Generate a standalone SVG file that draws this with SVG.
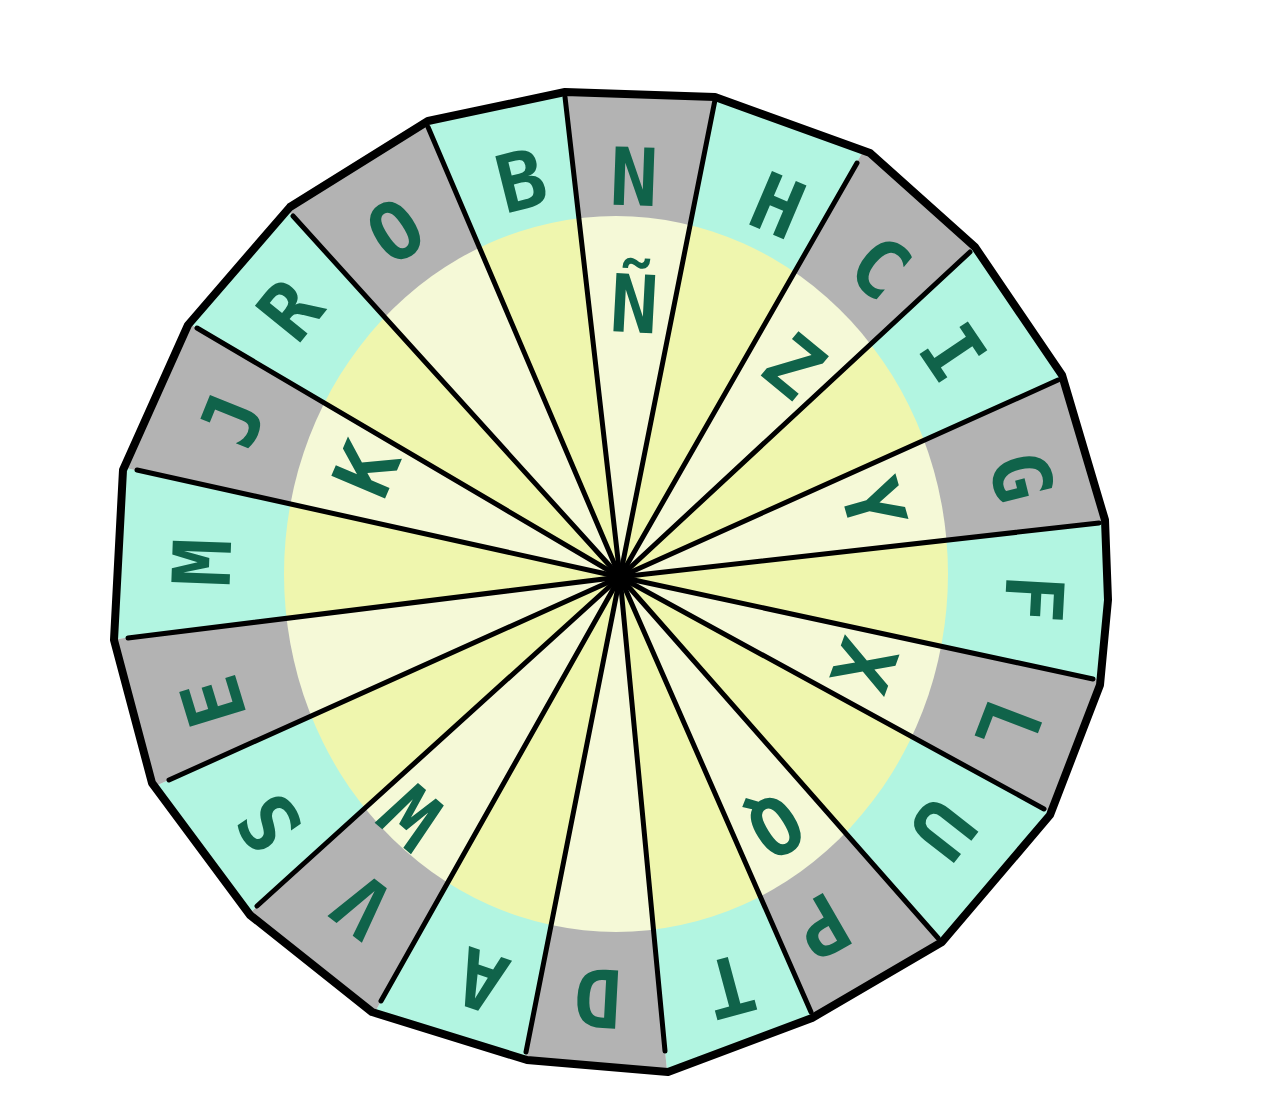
<svg xmlns="http://www.w3.org/2000/svg" width="1286" height="1100" viewBox="0 0 1286 1100">
<style>
.g{fill:#b3b3b3}
.c{fill:#b2f5e1}
.l{fill:#f5f9d7}
.d{fill:#eff6ae}
.sp line{stroke:#000;stroke-width:5;stroke-linecap:round}
text{font-family:"DejaVu Sans Mono","Liberation Mono",monospace;font-weight:bold;font-size:80px;fill:#10634a;text-anchor:middle}
</style>
<defs>
<clipPath id="inner"><ellipse cx="616" cy="574" rx="332" ry="358"/></clipPath>
<clipPath id="rim"><polygon points="428,121 565,92 715,97 870,153 975,247 1062,375 1105,520 1108,600 1100,685 1050,815 942,942 812,1018 668,1072 527,1060 372,1012 250,915 152,783 114,640 123,470 188,325 290,207"/></clipPath>
</defs>
<rect width="1286" height="1100" fill="#fff"/>
<g id="outer-ring" clip-path="url(#rim)">
<polygon class="g" points="620,577 563,77 717,80"/>
<polygon class="c" points="620,577 717,80 865,148"/>
<polygon class="g" points="620,577 865,148 985,238"/>
<polygon class="c" points="620,577 985,238 1078,372"/>
<polygon class="g" points="620,577 1078,372 1122,520"/>
<polygon class="c" points="620,577 1122,520 1116,683"/>
<polygon class="g" points="620,577 1116,683 1064,820"/>
<polygon class="c" points="620,577 1064,820 952,954"/>
<polygon class="g" points="620,577 952,954 819,1030"/>
<polygon class="c" points="620,577 819,1030 667,1071"/>
<polygon class="g" points="620,577 667,1071 522,1072"/>
<polygon class="c" points="620,577 522,1072 371,1019"/>
<polygon class="g" points="620,577 371,1019 242,920"/>
<polygon class="c" points="620,577 242,920 151,788"/>
<polygon class="g" points="620,577 151,788 108,640"/>
<polygon class="c" points="620,577 108,640 117,466"/>
<polygon class="g" points="620,577 117,466 180,318"/>
<polygon class="c" points="620,577 180,318 280,202"/>
<polygon class="g" points="620,577 280,202 420,108"/>
<polygon class="c" points="620,577 420,108 563,77"/>
</g>
<g id="inner-disc" clip-path="url(#inner)">
<polygon class="l" points="620,577 565,97 715,100"/>
<polygon class="d" points="620,577 715,100 857,163"/>
<polygon class="l" points="620,577 857,163 970,252"/>
<polygon class="d" points="620,577 970,252 1058,380"/>
<polygon class="l" points="620,577 1058,380 1099,523"/>
<polygon class="d" points="620,577 1099,523 1093,679"/>
<polygon class="l" points="620,577 1093,679 1044,809"/>
<polygon class="d" points="620,577 1044,809 938,938"/>
<polygon class="l" points="620,577 938,938 811,1012"/>
<polygon class="d" points="620,577 811,1012 665,1051"/>
<polygon class="l" points="620,577 665,1051 526,1052"/>
<polygon class="d" points="620,577 526,1052 381,1001"/>
<polygon class="l" points="620,577 381,1001 257,906"/>
<polygon class="d" points="620,577 257,906 169,780"/>
<polygon class="l" points="620,577 169,780 128,638"/>
<polygon class="d" points="620,577 128,638 137,470"/>
<polygon class="l" points="620,577 137,470 197,328"/>
<polygon class="d" points="620,577 197,328 293,216"/>
<polygon class="l" points="620,577 293,216 428,127"/>
<polygon class="d" points="620,577 428,127 565,97"/>
</g>
<g id="connectors" class="sp">
<line x1="620" y1="577" x2="565" y2="97"/>
<line x1="620" y1="577" x2="715" y2="100"/>
<line x1="620" y1="577" x2="857" y2="163"/>
<line x1="620" y1="577" x2="970" y2="252"/>
<line x1="620" y1="577" x2="1058" y2="380"/>
<line x1="620" y1="577" x2="1099" y2="523"/>
<line x1="620" y1="577" x2="1093" y2="679"/>
<line x1="620" y1="577" x2="1044" y2="809"/>
<line x1="620" y1="577" x2="938" y2="938"/>
<line x1="620" y1="577" x2="811" y2="1012"/>
<line x1="620" y1="577" x2="665" y2="1051"/>
<line x1="620" y1="577" x2="526" y2="1052"/>
<line x1="620" y1="577" x2="381" y2="1001"/>
<line x1="620" y1="577" x2="257" y2="906"/>
<line x1="620" y1="577" x2="169" y2="780"/>
<line x1="620" y1="577" x2="128" y2="638"/>
<line x1="620" y1="577" x2="137" y2="470"/>
<line x1="620" y1="577" x2="197" y2="328"/>
<line x1="620" y1="577" x2="293" y2="216"/>
<line x1="620" y1="577" x2="428" y2="127"/>
<circle cx="620" cy="577" r="12" fill="#000"/>
</g>
<polygon id="border" points="428,121 565,92 715,97 870,153 975,247 1062,375 1105,520 1108,600 1100,685 1050,815 942,942 812,1018 668,1072 527,1060 372,1012 250,915 152,783 114,640 123,470 188,325 290,207" fill="none" stroke="#000" stroke-width="8" stroke-linejoin="round"/>
<g id="outer-letters">
<text x="620" y="205" transform="rotate(2 620 577)">N</text>
<text x="620" y="202" transform="rotate(23 620 577)">H</text>
<text x="620" y="201" transform="rotate(40 620 577)">C</text>
<text x="620" y="204" transform="rotate(56 620 577)">I</text>
<text x="620" y="192" transform="rotate(76 620 577)">G</text>
<text x="620" y="191" transform="rotate(93 620 577)">F</text>
<text x="620" y="189" transform="rotate(111 620 577)">L</text>
<text x="620" y="196" transform="rotate(128 620 577)">U</text>
<text x="620" y="202" transform="rotate(150 620 577)">P</text>
<text x="620" y="182" transform="rotate(165 620 577)">T</text>
<text x="620" y="184" transform="rotate(183 620 577)">D</text>
<text x="620" y="179" transform="rotate(199 620 577)">A</text>
<text x="620" y="188" transform="rotate(218 620 577)">V</text>
<text x="620" y="177" transform="rotate(235 620 577)">S</text>
<text x="620" y="180" transform="rotate(253 620 577)">E</text>
<text x="620" y="187" transform="rotate(272 620 577)">M</text>
<text x="620" y="187" transform="rotate(292 620 577)">J</text>
<text x="620" y="181" transform="rotate(309 620 577)">R</text>
<text x="620" y="193" transform="rotate(327 620 577)">O</text>
<text x="620" y="197" transform="rotate(346 620 577)">B</text>
</g>
<g id="inner-letters">
<text x="620" y="332" transform="rotate(3 620 577)">Ñ</text>
<text x="620" y="332" transform="rotate(39.5 620 577)">Z</text>
<text x="620" y="342" transform="rotate(74 620 577)">Y</text>
<text x="620" y="346" transform="rotate(110 620 577)">X</text>
<text x="620" y="312" transform="rotate(148 620 577)">Q</text>
<text x="620" y="289" transform="rotate(221 620 577)">W</text>
<text x="620" y="330" transform="rotate(293 620 577)">K</text>
</g>
</svg>
